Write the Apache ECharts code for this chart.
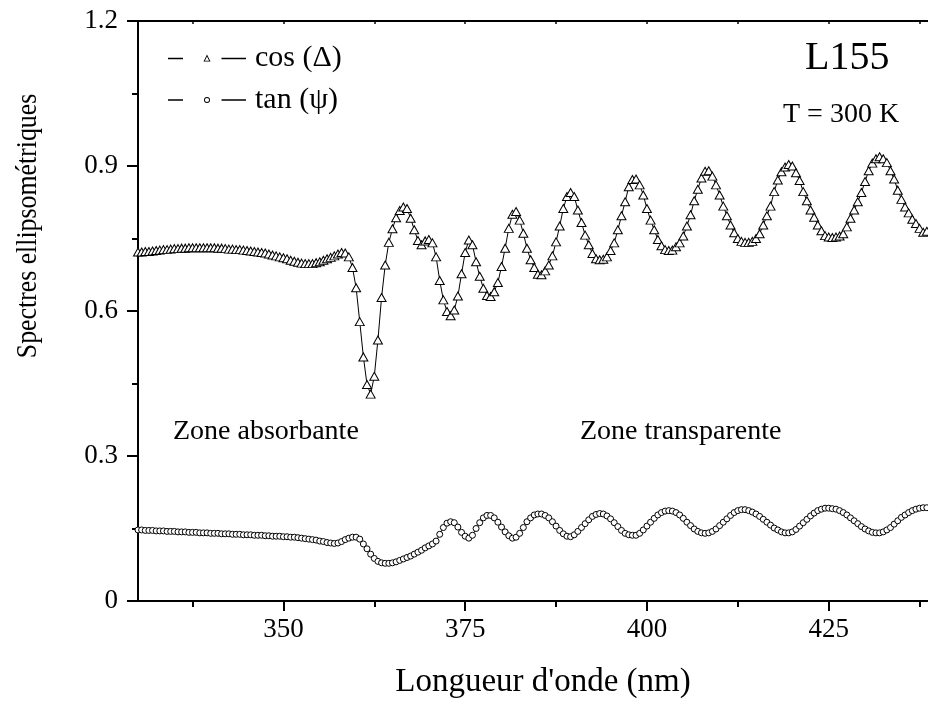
<!DOCTYPE html>
<html>
<head>
<meta charset="utf-8">
<script src="https://cdn.jsdelivr.net/npm/echarts@6/dist/echarts.min.js"></script>
<style>
html,body{margin:0;padding:0;background:#fff;}
#c{width:928px;height:706px;}
</style>
</head>
<body>
<div id="c"></div>
<script>
// Wavelength grid (nm)
const wavelength = [
330,330.5,331,331.5,332,332.5,333,333.5,334,334.5,
335,335.5,336,336.5,337,337.5,338,338.5,339,339.5,
340,340.5,341,341.5,342,342.5,343,343.5,344,344.5,
345,345.5,346,346.5,347,347.5,348,348.5,349,349.5,
350,350.5,351,351.5,352,352.5,353,353.5,354,354.5,
355,355.5,356,356.5,357,357.5,358,358.5,359,359.5,
360,360.5,361,361.5,362,362.5,363,363.5,364,364.5,
365,365.5,366,366.5,367,367.5,368,368.5,369,369.5,
370,370.5,371,371.5,372,372.5,373,373.5,374,374.5,
375,375.5,376,376.5,377,377.5,378,378.5,379,379.5,
380,380.5,381,381.5,382,382.5,383,383.5,384,384.5,
385,385.5,386,386.5,387,387.5,388,388.5,389,389.5,
390,390.5,391,391.5,392,392.5,393,393.5,394,394.5,
395,395.5,396,396.5,397,397.5,398,398.5,399,399.5,
400,400.5,401,401.5,402,402.5,403,403.5,404,404.5,
405,405.5,406,406.5,407,407.5,408,408.5,409,409.5,
410,410.5,411,411.5,412,412.5,413,413.5,414,414.5,
415,415.5,416,416.5,417,417.5,418,418.5,419,419.5,
420,420.5,421,421.5,422,422.5,423,423.5,424,424.5,
425,425.5,426,426.5,427,427.5,428,428.5,429,429.5,
430,430.5,431,431.5,432,432.5,433,433.5,434,434.5,
435,435.5,436,436.5,437,437.5,438,438.5
];
// cos(Delta)
const cosDelta = [
0.722,0.722,0.723,0.723,0.724,0.725,0.726,0.727,0.727,0.728,
0.729,0.729,0.730,0.730,0.731,0.731,0.731,0.731,0.731,0.731,
0.731,0.731,0.730,0.730,0.729,0.728,0.728,0.727,0.727,0.726,
0.725,0.724,0.723,0.722,0.721,0.720,0.718,0.716,0.714,0.712,
0.710,0.708,0.705,0.703,0.701,0.699,0.698,0.698,0.698,0.700,
0.702,0.705,0.708,0.711,0.714,0.718,0.721,0.720,0.712,0.690,
0.648,0.578,0.505,0.448,0.428,0.465,0.540,0.628,0.695,0.742,
0.770,0.793,0.808,0.815,0.812,0.792,0.768,0.746,0.737,0.745,
0.748,0.741,0.712,0.663,0.623,0.599,0.590,0.602,0.631,0.677,
0.721,0.747,0.737,0.702,0.672,0.647,0.632,0.630,0.640,0.659,
0.692,0.730,0.771,0.800,0.806,0.788,0.761,0.730,0.706,0.690,
0.676,0.675,0.683,0.695,0.714,0.743,0.776,0.812,0.837,0.845,
0.837,0.809,0.783,0.757,0.737,0.719,0.708,0.706,0.707,0.712,
0.725,0.741,0.768,0.797,0.826,0.857,0.872,0.873,0.861,0.840,
0.812,0.788,0.768,0.748,0.735,0.727,0.725,0.726,0.733,0.741,
0.755,0.776,0.799,0.828,0.852,0.875,0.889,0.890,0.879,0.861,
0.840,0.817,0.797,0.778,0.762,0.750,0.744,0.742,0.742,0.744,
0.750,0.760,0.778,0.797,0.817,0.847,0.871,0.888,0.898,0.903,
0.900,0.886,0.870,0.847,0.828,0.809,0.794,0.778,0.766,0.756,
0.753,0.752,0.753,0.755,0.760,0.774,0.792,0.809,0.826,0.845,
0.868,0.890,0.906,0.915,0.919,0.915,0.907,0.890,0.873,0.850,
0.831,0.815,0.803,0.790,0.781,0.771,0.763,0.765
];
// tan(psi)
const tanPsi = [
0.147,0.147,0.146,0.146,0.146,0.145,0.145,0.145,0.144,0.144,
0.144,0.143,0.143,0.143,0.142,0.142,0.142,0.141,0.141,0.141,
0.140,0.140,0.140,0.139,0.139,0.139,0.138,0.138,0.138,0.137,
0.137,0.137,0.136,0.136,0.136,0.135,0.135,0.134,0.134,0.134,
0.133,0.133,0.132,0.132,0.131,0.130,0.129,0.128,0.127,0.126,
0.124,0.123,0.121,0.120,0.119,0.120,0.123,0.127,0.130,0.132,
0.132,0.128,0.118,0.108,0.097,0.088,0.082,0.079,0.078,0.078,
0.079,0.081,0.084,0.087,0.090,0.093,0.097,0.101,0.105,0.110,
0.114,0.118,0.124,0.138,0.152,0.161,0.164,0.162,0.153,0.142,
0.134,0.130,0.136,0.150,0.162,0.172,0.177,0.177,0.172,0.163,
0.153,0.143,0.135,0.130,0.132,0.140,0.152,0.164,0.172,0.178,
0.180,0.180,0.177,0.172,0.164,0.155,0.146,0.139,0.134,0.133,
0.137,0.144,0.152,0.160,0.168,0.175,0.179,0.181,0.180,0.176,
0.170,0.162,0.154,0.146,0.140,0.137,0.136,0.136,0.140,0.147,
0.155,0.163,0.171,0.178,0.183,0.186,0.187,0.186,0.183,0.178,
0.171,0.163,0.156,0.149,0.144,0.141,0.140,0.141,0.144,0.149,
0.156,0.163,0.170,0.177,0.183,0.187,0.189,0.189,0.187,0.184,
0.180,0.175,0.169,0.163,0.157,0.151,0.147,0.143,0.141,0.141,
0.143,0.148,0.155,0.162,0.169,0.176,0.182,0.187,0.190,0.192,
0.192,0.191,0.190,0.187,0.183,0.178,0.172,0.166,0.160,0.154,
0.149,0.145,0.142,0.141,0.141,0.143,0.147,0.152,0.159,0.166,
0.173,0.178,0.183,0.187,0.190,0.192,0.193,0.193
];
const xMajorTicks = [350, 375, 400, 425];
const xMinorTicks = [337.5, 362.5, 387.5, 412.5, 437.5];
const xAllTicks = [337.5, 350, 362.5, 375, 387.5, 400, 412.5, 425, 437.5];
const seriesNames = ['cos (\u0394)', 'tan (\u03C8)'];

const FONT = '"Liberation Serif", "Times New Roman", serif';
const X_MIN = 330, X_MAX = 438.66;

// legend icons: dash, hollow marker, dash
const DASHES = 'M0 5.3 L15 5.3 L15 6.7 L0 6.7 Z M53.5 5.3 L78 5.3 L78 6.7 L53.5 6.7 Z ';
const ICON_TRI = 'path://' + DASHES + 'M35.5 9 L39 2 L42.5 9 Z M36.9 8.2 L41.1 8.2 L39 4.0 Z';
const ICON_CIRC = 'path://' + DASHES + 'M36 6 A3 3 0 1 1 42 6 A3 3 0 1 1 36 6 Z M36.9 6 A2.1 2.1 0 1 0 41.1 6 A2.1 2.1 0 1 0 36.9 6 Z';

function pairs(xs, ys) { return xs.map((x, i) => [x, ys[i]]); }

const chart = echarts.init(document.getElementById('c'), null, {renderer: 'canvas'});
chart.setOption({
  animation: false,
  backgroundColor: '#ffffff',
  grid: {left: 138, right: 0, top: 21, bottom: 105, containLabel: false},
  legend: {
    orient: 'vertical', left: 168, top: 43, itemWidth: 78, itemHeight: 7, itemGap: 12,
    padding: 0,
    itemStyle: {color: '#000', borderWidth: 0},
    textStyle: {fontFamily: FONT, fontSize: 30, color: '#000', padding: [0,0,0,4]},
    data: [
      {name: seriesNames[0], icon: ICON_TRI},
      {name: seriesNames[1], icon: ICON_CIRC}
    ]
  },
  xAxis: [
    {
      type: 'value', min: X_MIN, max: X_MAX, position: 'bottom',
      axisLine: {show: true, onZero: false, lineStyle: {color: '#000', width: 2}},
      axisTick: {show: true, inside: false, length: 10, lineStyle: {color: '#000', width: 2}, customValues: xMajorTicks},
      axisLabel: {show: true, margin: 15, fontFamily: FONT, fontSize: 27, color: '#000', customValues: xMajorTicks},
      splitLine: {show: false}
    },
    {
      type: 'value', min: X_MIN, max: X_MAX, position: 'bottom',
      axisLine: {show: false, onZero: false},
      axisTick: {show: true, inside: false, length: 6, lineStyle: {color: '#000', width: 2}, customValues: xMinorTicks},
      axisLabel: {show: false, customValues: xMinorTicks},
      splitLine: {show: false}
    },
    {
      type: 'value', min: X_MIN, max: X_MAX, position: 'top',
      axisLine: {show: true, onZero: false, lineStyle: {color: '#000', width: 2}},
      axisTick: {show: true, inside: true, length: 3, lineStyle: {color: '#000', width: 1.5}, customValues: xAllTicks},
      axisLabel: {show: false, customValues: xAllTicks},
      splitLine: {show: false}
    }
  ],
  yAxis: {
    type: 'value', min: 0, max: 1.2, interval: 0.3,
    axisLine: {show: true, onZero: false, lineStyle: {color: '#000', width: 2}},
    axisTick: {show: true, inside: false, length: 11, lineStyle: {color: '#000', width: 2}},
    minorTick: {show: true, splitNumber: 2, length: 6, lineStyle: {color: '#000', width: 2}},
    axisLabel: {margin: 20, fontFamily: FONT, fontSize: 27, color: '#000'},
    splitLine: {show: false}, minorSplitLine: {show: false}
  },
  series: [
    {
      name: seriesNames[0], type: 'line', xAxisIndex: 0,
      data: pairs(wavelength, cosDelta),
      symbol: 'triangle', symbolSize: [9, 8], showSymbol: true, showAllSymbol: true,
      lineStyle: {color: '#000', width: 1},
      itemStyle: {color: '#fff', borderColor: '#000', borderWidth: 1}
    },
    {
      name: seriesNames[1], type: 'line', xAxisIndex: 0,
      data: pairs(wavelength, tanPsi),
      symbol: 'circle', symbolSize: 6, showSymbol: true, showAllSymbol: true,
      lineStyle: {color: '#000', width: 1},
      itemStyle: {color: '#fff', borderColor: '#000', borderWidth: 1}
    }
  ],
  graphic: [
    {type: 'text', left: 805, top: 38, style: {text: 'L155', font: '40px ' + FONT, fill: '#000'}},
    {type: 'text', left: 783, top: 101, style: {text: 'T = 300 K', font: '28px ' + FONT, fill: '#000'}},
    {type: 'text', left: 173, top: 418, style: {text: 'Zone absorbante', font: '28px ' + FONT, fill: '#000'}},
    {type: 'text', left: 580, top: 418, style: {text: 'Zone transparente', font: '28px ' + FONT, fill: '#000'}},
    {type: 'text', x: 28, y: 226, rotation: Math.PI / 2, scaleX: 0.86,
      style: {text: 'Spectres ellipsom\u00e9triques', font: '30px ' + FONT, fill: '#000', align: 'center', verticalAlign: 'middle'}},
    {type: 'text', x: 543, y: 682,
      style: {text: "Longueur d'onde (nm)", font: '33px ' + FONT, fill: '#000', align: 'center', verticalAlign: 'middle'}}
  ]
});
</script>
</body>
</html>
